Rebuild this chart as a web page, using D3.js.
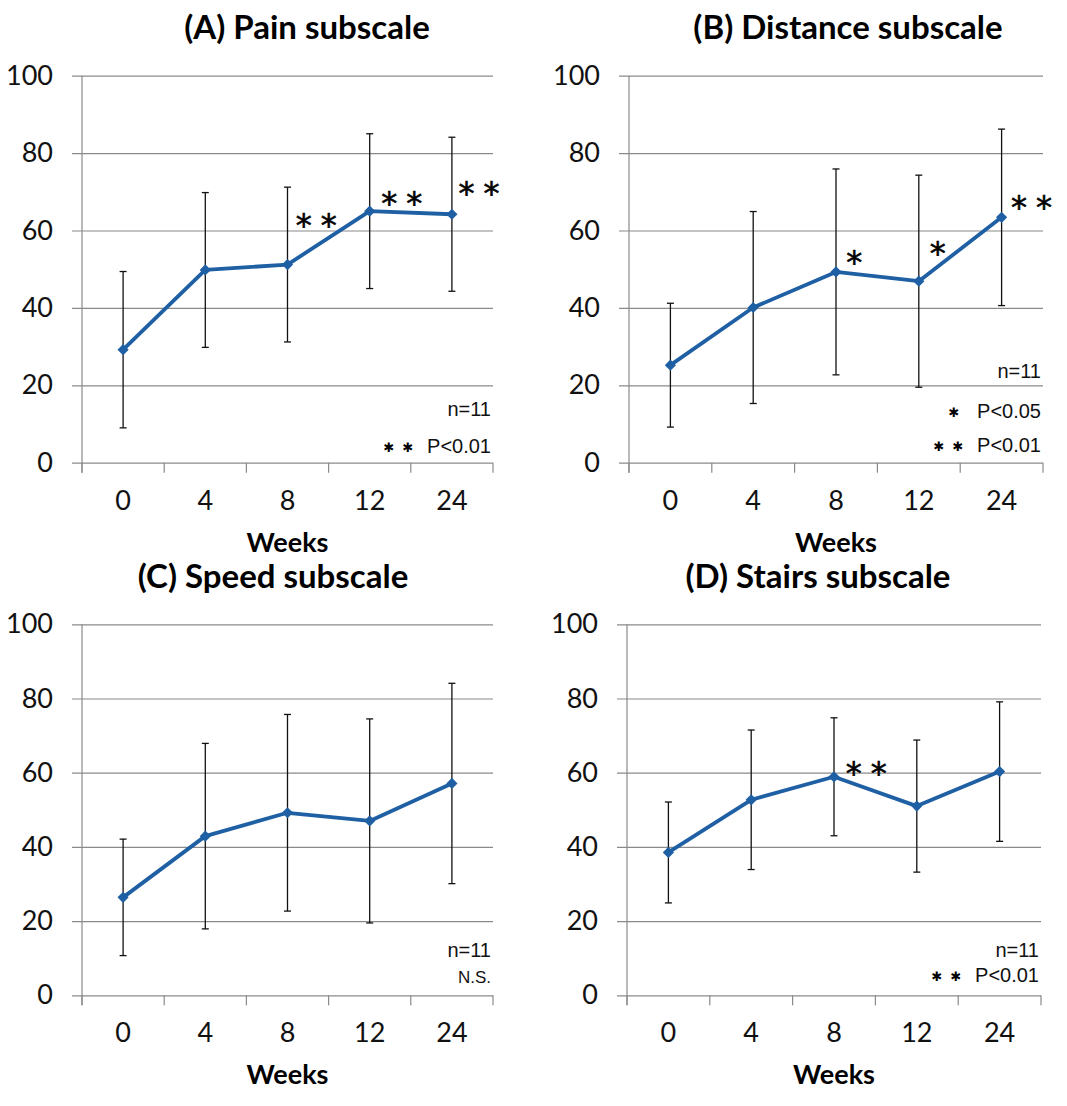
<!DOCTYPE html>
<html>
<head>
<meta charset="utf-8">
<script src="https://cdn.jsdelivr.net/npm/d3@7"></script>
<style>
  body { margin: 0; background: #fff; }
  svg { display: block; }
</style>
</head>
<body>
<div id="chart"></div>
<script>
// values (mean, SD)
const weeks = ["0", "4", "8", "12", "24"]
const yTicks = [0, 20, 40, 60, 80, 100]

const painMean = [29.2, 49.8, 51.2, 65.0, 64.2]
const painSD = [20.2, 20.0, 20.0, 20.0, 19.9]

const distanceMean = [25.2, 40.1, 49.3, 46.9, 63.4]
const distanceSD = [16.0, 24.8, 26.6, 27.4, 22.8]

const speedMean = [26.4, 42.9, 49.2, 47.0, 57.1]
const speedSD = [15.7, 25.0, 26.5, 27.5, 27.0]

const stairsMean = [38.5, 52.7, 58.9, 51.0, 60.3]
const stairsSD = [13.6, 18.8, 15.9, 17.8, 18.8]

const panels = [
    {title: "(A) Pain subscale", mean: painMean, sd: painSD,
     left: 82, right: 493, top: 75.7, bottom: 462.7, titleX: 307, titleY: 39,
     stars: [{week: "8", shift: 0.35, v: 63, n: 2}, {week: "12", shift: 0.39, v: 68.7, n: 2}, {week: "24", shift: 0.33, v: 71.2, n: 2}],
     notes: [{text: "n=11", up: 46.7}, {text: "P<0.01", up: 10, n: 2}]},
    {title: "(B) Distance subscale", mean: distanceMean, sd: distanceSD,
     left: 629, right: 1043, top: 75.7, bottom: 462.7, titleX: 848, titleY: 39,
     stars: [{week: "8", shift: 0.22, v: 53.4, n: 1}, {week: "12", shift: 0.23, v: 55.7, n: 1}, {week: "24", shift: 0.36, v: 67.6, n: 2}],
     notes: [{text: "n=11", up: 84.5}, {text: "P<0.05", up: 44.7, n: 1}, {text: "P<0.01", up: 10.7, n: 2}]},
    {title: "(C) Speed subscale", mean: speedMean, sd: speedSD,
     left: 82, right: 493, top: 624.3, bottom: 995.3, titleX: 273, titleY: 588,
     stars: [],
     notes: [{text: "n=11", up: 38.3}, {text: "N.S.", up: 12.3, small: true}]},
    {title: "(D) Stairs subscale", mean: stairsMean, sd: stairsSD,
     left: 627, right: 1041, top: 624.3, bottom: 995.3, titleX: 818, titleY: 588,
     stars: [{week: "8", shift: 0.39, v: 61.5, n: 2}],
     notes: [{text: "n=11", up: 38.3}, {text: "P<0.01", up: 13.3, n: 2}]}
]

const blue = "#1F5FA3"
const grid = "#8a8a8a"
const numFont = "Lato, 'Open Sans', sans-serif"
const noteFont = "'Liberation Sans', Arial, sans-serif"

const svg = d3.select("#chart").append("svg")
    .attr("width", 1067)
    .attr("height", 1106)

panels.forEach(p => {
    const x = d3.scaleBand().domain(weeks).range([p.left, p.right])
    const y = d3.scaleLinear().domain([0, 100]).range([p.bottom, p.top])
    const cx = d => x(d) + x.bandwidth() / 2
    const g = svg.append("g")

    // title
    g.append("text")
        .attr("x", p.titleX).attr("y", p.titleY)
        .attr("text-anchor", "middle")
        .style("font-family", numFont).style("font-weight", "bold").style("font-size", "33px")
        .text(p.title)

    // y axis with gridlines
    const ya = g.append("g")
        .attr("transform", `translate(${p.left},0)`)
        .call(d3.axisLeft(y).tickValues(yTicks).tickSize(-(p.right - p.left)).tickSizeOuter(0).tickPadding(29))
    ya.select(".domain").remove()
    ya.selectAll(".tick line").attr("stroke", grid).attr("x1", -10).attr("stroke-width", 1.2)
    ya.selectAll(".tick text")
        .style("font-family", numFont).style("font-size", "27px").attr("fill", "#111")

    // vertical axis line
    g.append("line")
        .attr("x1", p.left).attr("x2", p.left)
        .attr("y1", p.top).attr("y2", p.bottom + 10)
        .attr("stroke", grid).attr("stroke-width", 1.2)

    // x axis: ticks at category boundaries
    const bounds = weeks.map(w => x(w)).concat([p.right])
    g.selectAll(".xtick").data(bounds).enter().append("line")
        .attr("x1", d => d).attr("x2", d => d)
        .attr("y1", p.bottom).attr("y2", p.bottom + 10)
        .attr("stroke", grid).attr("stroke-width", 1.2)

    g.selectAll(".xlab").data(weeks).enter().append("text")
        .attr("x", d => cx(d)).attr("y", p.bottom + 47)
        .attr("text-anchor", "middle")
        .style("font-family", numFont).style("font-size", "27px").attr("fill", "#111")
        .text(d => d)

    g.append("text")
        .attr("x", (p.left + p.right) / 2).attr("y", p.bottom + 89)
        .attr("text-anchor", "middle")
        .style("font-family", numFont).style("font-weight", "bold").style("font-size", "27px")
        .text("Weeks")

    const pts = weeks.map((w, i) => ({w: w, m: p.mean[i], s: p.sd[i]}))

    // error bars
    const eb = g.selectAll(".eb").data(pts).enter().append("g")
    eb.append("line")
        .attr("x1", d => cx(d.w)).attr("x2", d => cx(d.w))
        .attr("y1", d => y(d.m - d.s)).attr("y2", d => y(d.m + d.s))
        .attr("stroke", "#111").attr("stroke-width", 1.3)
    ;[1, -1].forEach(sg => {
        eb.append("line")
            .attr("x1", d => cx(d.w) - 3.5).attr("x2", d => cx(d.w) + 3.5)
            .attr("y1", d => y(d.m + sg * d.s)).attr("y2", d => y(d.m + sg * d.s))
            .attr("stroke", "#111").attr("stroke-width", 1.3)
    })

    // mean line
    g.append("path").datum(pts)
        .attr("fill", "none").attr("stroke", blue).attr("stroke-width", 3.8)
        .attr("stroke-linejoin", "round")
        .attr("d", d3.line().x(d => cx(d.w)).y(d => y(d.m)))

    g.selectAll(".mk").data(pts).enter().append("path")
        .attr("transform", d => `translate(${cx(d.w)},${y(d.m)})`)
        .attr("d", d3.symbol().type(d3.symbolDiamond2).size(80))
        .attr("fill", blue)

    // significance marks
    p.stars.forEach(s => {
        const sx = cx(s.week) + s.shift * x.step()
        const offs = s.n === 2 ? [-12.5, 12.5] : [0]
        offs.forEach(o => {
            g.append("text")
                .attr("x", sx + o).attr("y", y(s.v) + 17)
                .attr("text-anchor", "middle")
                .style("font-family", "'DejaVu Sans', sans-serif").style("font-size", "32px")
                .style("stroke", "#000").style("stroke-width", 0.6)
                .text("*")
        })
    })

    // notes
    p.notes.forEach(nt => {
        const t = g.append("text")
            .attr("x", p.right - 2).attr("y", p.bottom - nt.up)
            .attr("text-anchor", "end")
            .style("font-family", noteFont).style("font-size", nt.small ? "17px" : "20px")
            .attr("fill", "#111")
            .text(nt.text)
        if (nt.n) {
            const start = p.right - 2 - t.node().getComputedTextLength()
            const offs = nt.n === 2 ? [-38, -19] : [-23]
            offs.forEach(o => {
                g.append("text")
                    .attr("x", start + o).attr("y", p.bottom - nt.up - 1)
                    .attr("text-anchor", "middle")
                    .style("font-family", "'DejaVu Sans', sans-serif").style("font-size", "13px")
                    .text("\u2731")
            })
        }
    })
})
</script>
</body>
</html>
